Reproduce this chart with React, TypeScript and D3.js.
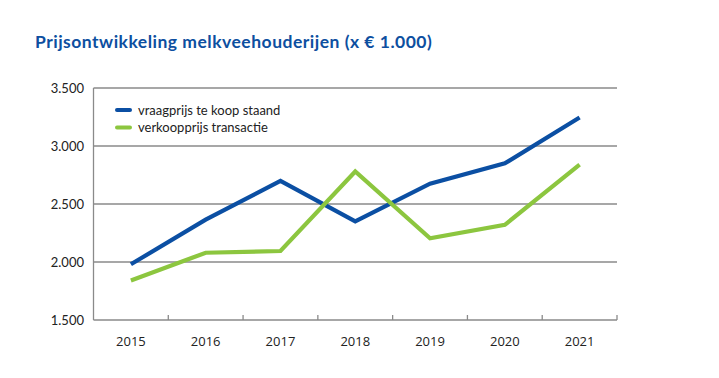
import React from "react";
import * as d3 from "d3";

const years = ["2015", "2016", "2017", "2018", "2019", "2020", "2021"];
const vraagprijs = [1980, 2365, 2700, 2350, 2675, 2850, 3245];
const verkoopprijs = [1840, 2080, 2095, 2780, 2205, 2320, 2840];
const yTicks = [1500, 2000, 2500, 3000, 3500];
const seriesNames = ["vraagprijs te koop staand", "verkoopprijs transactie"];
const title = "Prijsontwikkeling melkveehouderijen (x € 1.000)";

const W = 719;
const H = 378;
const left = 93.5;
const right = 617;
const top = 88;
const bottom = 320;
const BLUE = "#0b4fa3";
const GREEN = "#8cc63f";
const GRID = "#8a8a8a";

const fmt = (v: number) => d3.format(",")(v).replace(/,/g, ".");

export default function App() {
  const x = d3.scaleBand<string>().domain(years).range([left, right]);
  const y = d3.scaleLinear().domain([1500, 3500]).range([bottom, top]);
  const cx = (d: string) => (x(d) as number) + x.bandwidth() / 2;
  const line = d3
    .line<number>()
    .x((_, i) => cx(years[i]))
    .y((v) => y(v));
  const boundaries = years.map((d) => (x(d) as number) + x.bandwidth());
  const series = [
    { name: seriesNames[0], values: vraagprijs, color: BLUE },
    { name: seriesNames[1], values: verkoopprijs, color: GREEN },
  ];
  return (
    <svg
      width={W}
      height={H}
      style={{ position: "absolute", left: 0, top: 0, background: "#fff" }}
    >
      <text
        x={35}
        y={48}
        fill="#0d4fa0"
        fontFamily="Lato, 'Open Sans', sans-serif"
        fontWeight={700}
        fontSize={17.5}
        letterSpacing={0.5}
      >
        {title}
      </text>
      {yTicks.map((t) => (
        <g key={t}>
          {t !== 1500 && (
            <line x1={left} x2={right} y1={y(t)} y2={y(t)} stroke={GRID} strokeWidth={1.3} />
          )}
          <text
            x={84}
            y={y(t)}
            dy="0.35em"
            textAnchor="end"
            fontFamily="Lato, 'Open Sans', sans-serif"
            fontSize={13}
            fill="#222"
          >
            {fmt(t)}
          </text>
        </g>
      ))}
      <line x1={left} x2={left} y1={top} y2={bottom} stroke={GRID} strokeWidth={1.3} />
      <line x1={left} x2={right} y1={bottom} y2={bottom} stroke={GRID} strokeWidth={1.3} />
      {boundaries.map((bx, i) => (
        <line key={i} x1={bx} x2={bx} y1={bottom} y2={bottom - 5} stroke={GRID} strokeWidth={1.3} />
      ))}
      {years.map((d) => (
        <text
          key={d}
          x={cx(d)}
          y={346}
          textAnchor="middle"
          fontFamily="'Open Sans', sans-serif"
          fontSize={13}
          fill="#222"
        >
          {d}
        </text>
      ))}
      {series.map((s) => (
        <path
          key={s.name}
          d={line(s.values) || ""}
          fill="none"
          stroke={s.color}
          strokeWidth={4.2}
          strokeLinejoin="miter"
        />
      ))}
      {series.map((s, i) => (
        <g key={s.name} transform={`translate(0, ${110 + i * 17.5})`}>
          <line x1={117} x2={130} y1={0} y2={0} stroke={s.color} strokeWidth={4} strokeLinecap="round" />
          <text
            x={138}
            y={0}
            dy="0.35em"
            fontFamily="Lato, 'Open Sans', sans-serif"
            fontSize={13}
            fill="#222"
          >
            {s.name}
          </text>
        </g>
      ))}
    </svg>
  );
}
